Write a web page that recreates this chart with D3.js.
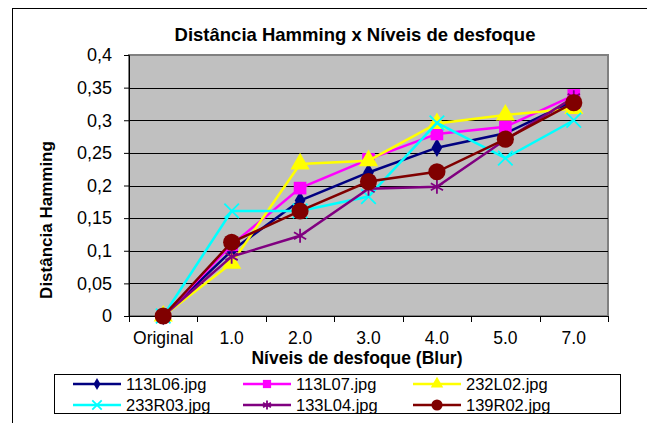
<!DOCTYPE html>
<html>
<head>
<meta charset="utf-8">
<script src="https://cdn.jsdelivr.net/npm/d3@7"></script>
<style>
  body { margin: 0; background: #fff; }
</style>
</head>
<body>
<div id="chart"></div>
<script>
// data
const categories = ['Original', '1.0', '2.0', '3.0', '4.0', '5.0', '7.0'];
const yTicks = [0, 0.05, 0.1, 0.15, 0.2, 0.25, 0.3, 0.35, 0.4];
const s113L06 = [0, 0.100, 0.177, 0.220, 0.258, 0.280, 0.330];
const s113L07 = [0, 0.109, 0.196, 0.240, 0.279, 0.290, 0.338];
const s232L02 = [0, 0.081, 0.233, 0.238, 0.295, 0.308, 0.318];
const s233R03 = [0, 0.161, 0.161, 0.183, 0.296, 0.242, 0.300];
const s133L04 = [0, 0.091, 0.123, 0.195, 0.198, 0.270, 0.335];
const s139R02 = [0, 0.113, 0.161, 0.206, 0.221, 0.271, 0.327];

const series = [
  {name: '113L06.jpg', values: s113L06, color: '#000080', marker: 'diamond'},
  {name: '113L07.jpg', values: s113L07, color: '#ff00ff', marker: 'square'},
  {name: '232L02.jpg', values: s232L02, color: '#ffff00', marker: 'triangle'},
  {name: '233R03.jpg', values: s233R03, color: '#00ffff', marker: 'x'},
  {name: '133L04.jpg', values: s133L04, color: '#800080', marker: 'star'},
  {name: '139R02.jpg', values: s139R02, color: '#800000', marker: 'circle'}
];

const W = 647, H = 423;
const plot = {left: 129, top: 55, right: 608, bottom: 316};
const FONT = '"Liberation Sans", Arial, sans-serif';

const svg = d3.select('#chart').append('svg')
  .attr('width', W)
  .attr('height', H)
  .attr('font-family', FONT);

// outer chart frame (runs off the right / bottom edge)
svg.append('rect')
  .attr('x', 12.5).attr('y', 8.5)
  .attr('width', 700).attr('height', 500)
  .attr('fill', '#fff').attr('stroke', '#000').attr('stroke-width', 1);

const x = d3.scaleBand().domain(categories).range([plot.left, plot.right]);
const y = d3.scaleLinear().domain([0, 0.4]).range([plot.bottom, plot.top]);

// plot background
svg.append('rect')
  .attr('x', plot.left).attr('y', plot.top)
  .attr('width', plot.right - plot.left).attr('height', plot.bottom - plot.top)
  .attr('fill', '#c0c0c0').attr('stroke', '#808080').attr('stroke-width', 2);

// gridlines
svg.append('g').selectAll('line')
  .data(yTicks.filter(d => d > 0 && d < 0.4))
  .join('line')
  .attr('x1', plot.left).attr('x2', plot.right)
  .attr('y1', d => Math.round(y(d)) + 0.5).attr('y2', d => Math.round(y(d)) + 0.5)
  .attr('stroke', '#000').attr('stroke-width', 1);

const fmt = d => String(+d.toFixed(2)).replace('.', ',');

// y axis
const yAxis = svg.append('g')
  .attr('transform', `translate(${plot.left},0)`)
  .call(d3.axisLeft(y).tickValues(yTicks).tickFormat(fmt).tickSize(5).tickPadding(12));
yAxis.select('.domain').attr('stroke', '#000');
yAxis.selectAll('text').attr('font-size', 18).attr('fill', '#000')
  .attr('font-family', FONT);

// x axis: ticks on category boundaries, labels centred
const xAxis = svg.append('g')
  .attr('transform', `translate(0,${plot.bottom})`);
xAxis.append('line')
  .attr('x1', plot.left).attr('x2', plot.right)
  .attr('y1', 0.5).attr('y2', 0.5).attr('stroke', '#000');
xAxis.selectAll('.tk')
  .data(categories.concat(['end']))
  .join('line')
  .attr('class', 'tk')
  .attr('x1', (d, i) => Math.round(plot.left + i * x.bandwidth()) + 0.5)
  .attr('x2', (d, i) => Math.round(plot.left + i * x.bandwidth()) + 0.5)
  .attr('y1', 0).attr('y2', 6).attr('stroke', '#000');
xAxis.selectAll('text')
  .data(categories)
  .join('text')
  .attr('x', d => x(d) + x.bandwidth() / 2)
  .attr('y', 28)
  .attr('text-anchor', 'middle')
  .attr('font-size', 17.5)
  .text(d => d);

// titles
svg.append('text')
  .attr('x', 355).attr('y', 41)
  .attr('text-anchor', 'middle')
  .attr('font-size', 18.5).attr('font-weight', 'bold')
  .text('Distância Hamming x Níveis de desfoque');

svg.append('text')
  .attr('x', 357).attr('y', 364)
  .attr('text-anchor', 'middle')
  .attr('font-size', 17.5).attr('font-weight', 'bold')
  .text('Níveis de desfoque (Blur)');

svg.append('text')
  .attr('transform', 'translate(52,220) rotate(-90)')
  .attr('text-anchor', 'middle')
  .attr('font-size', 17).attr('font-weight', 'bold')
  .text('Distância Hamming');

// marker shapes
const symbols = {
  diamond: d3.symbol().type(d3.symbolDiamond).size(100),
  square: d3.symbol().type(d3.symbolSquare).size(160),
  triangle: d3.symbol().type(d3.symbolTriangle).size(160),
  x: d3.symbol().type(d3.symbolTimes).size(140),
  star: d3.symbol().type(d3.symbolAsterisk).size(140),
  circle: d3.symbol().type(d3.symbolCircle).size(230)
};
function drawMarker(g, s, cx, cy, scale) {
  const k = scale || 1;
  const open = s.marker === 'x' || s.marker === 'star';
  g.append('path')
    .attr('d', symbols[s.marker]())
    .attr('transform', `translate(${cx},${cy}) scale(${k})`)
    .attr('fill', open ? 'none' : s.color)
    .attr('stroke', s.color)
    .attr('stroke-width', open ? 1.8 / k : 0);
}

const line = d3.line()
  .x((d, i) => x(categories[i]) + x.bandwidth() / 2)
  .y(d => y(d));

const lines = svg.append('g');
series.forEach(s => {
  const g = lines.append('g');
  g.append('path')
    .attr('d', line(s.values))
    .attr('fill', 'none')
    .attr('stroke', s.color)
    .attr('stroke-width', 2.5);
  s.values.forEach((v, i) => {
    drawMarker(g, s, x(categories[i]) + x.bandwidth() / 2, y(v));
  });
});

// legend
const legend = svg.append('g');
legend.append('rect')
  .attr('x', 54.5).attr('y', 374.5)
  .attr('width', 566).attr('height', 39)
  .attr('fill', '#fff').attr('stroke', '#000');
const colX = [73, 243, 413];
const rowY = [384, 405];
series.forEach((s, i) => {
  const cx = colX[i % 3], cy = rowY[Math.floor(i / 3)];
  const g = legend.append('g');
  g.append('line')
    .attr('x1', cx).attr('x2', cx + 48)
    .attr('y1', cy).attr('y2', cy)
    .attr('stroke', s.color).attr('stroke-width', 2.5);
  drawMarker(g, s, cx + 24, cy, 0.65);
  g.append('text')
    .attr('x', cx + 53).attr('y', cy + 6)
    .attr('font-size', 16.5)
    .text(s.name);
});
</script>
</body>
</html>
